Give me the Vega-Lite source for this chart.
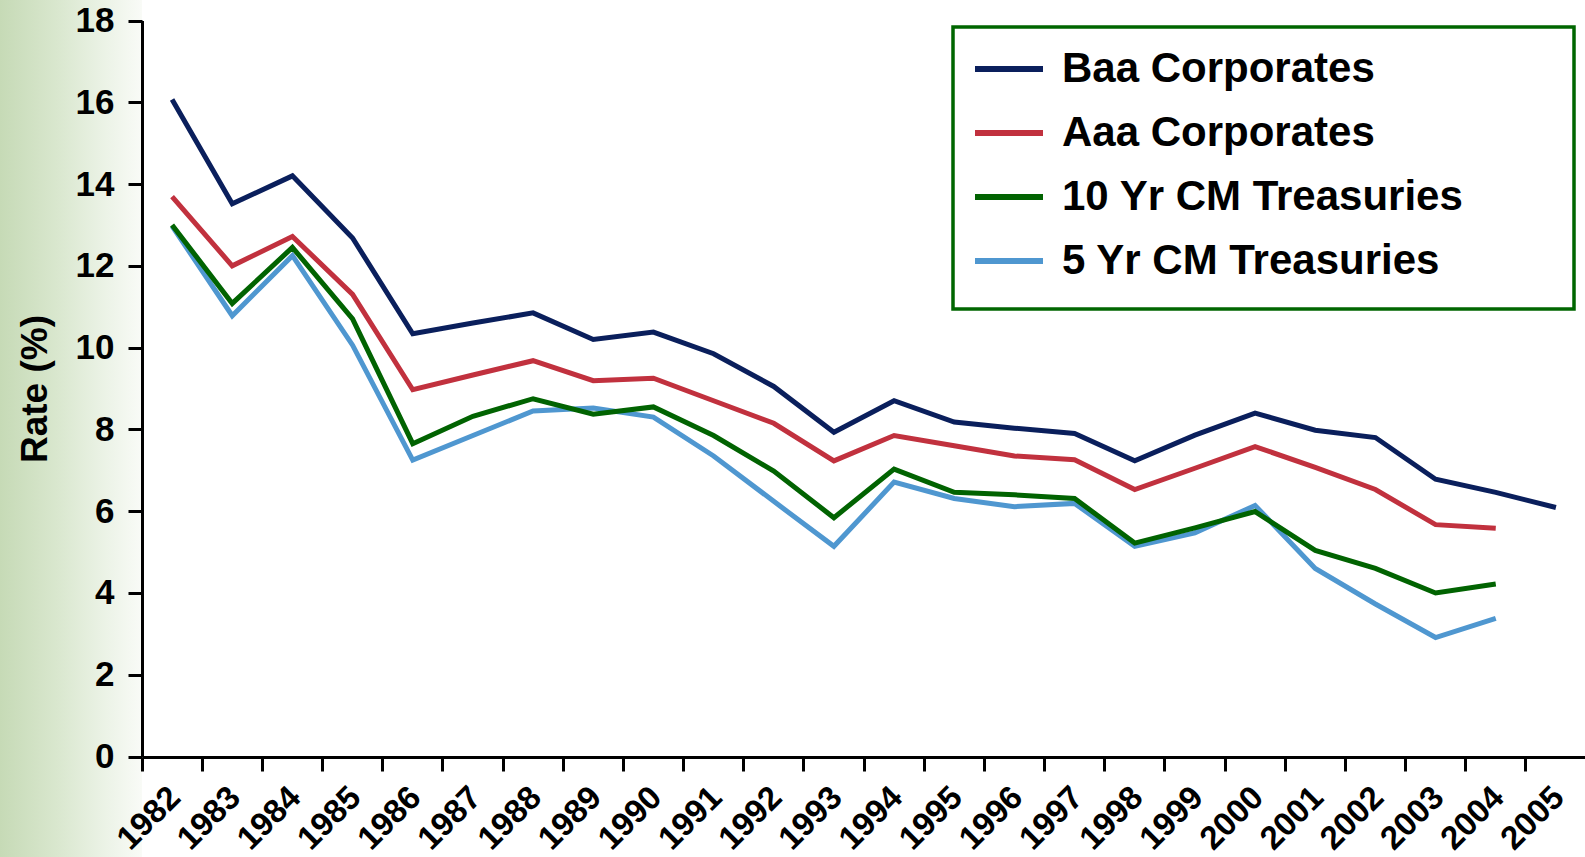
{
  "$schema": "https://vega.github.io/schema/vega-lite/v6.json",
  "padding": 0,
  "background": "white",
  "bounds": "flush",
  "spacing": 0,
  "config": {"font": "Liberation Sans"},
  "hconcat": [
    {
      "width": 142,
      "height": 857,
      "view": {
        "stroke": null,
        "fill": {
          "gradient": "linear",
          "x1": 0, "y1": 0, "x2": 1, "y2": 0,
          "stops": [
            {"offset": 0, "color": "#c6dab6"},
            {"offset": 0.4, "color": "#d9e7ce"},
            {"offset": 0.75, "color": "#ecf3e7"},
            {"offset": 1, "color": "#f9fbf7"}
          ]
        }
      },
      "data": {"values": [{}]},
      "mark": {"type": "point", "opacity": 0},
      "encoding": {}
    },
    {
      "width": 1444,
      "height": 757,
      "view": {"stroke": null},
      "data": {"values": [
        {"year": "1982", "series": "Baa Corporates", "rate": 16.07},
        {"year": "1983", "series": "Baa Corporates", "rate": 13.52},
        {"year": "1984", "series": "Baa Corporates", "rate": 14.2},
        {"year": "1985", "series": "Baa Corporates", "rate": 12.68},
        {"year": "1986", "series": "Baa Corporates", "rate": 10.34},
        {"year": "1987", "series": "Baa Corporates", "rate": 10.6},
        {"year": "1988", "series": "Baa Corporates", "rate": 10.85},
        {"year": "1989", "series": "Baa Corporates", "rate": 10.2},
        {"year": "1990", "series": "Baa Corporates", "rate": 10.38},
        {"year": "1991", "series": "Baa Corporates", "rate": 9.85},
        {"year": "1992", "series": "Baa Corporates", "rate": 9.05},
        {"year": "1993", "series": "Baa Corporates", "rate": 7.93},
        {"year": "1994", "series": "Baa Corporates", "rate": 8.7},
        {"year": "1995", "series": "Baa Corporates", "rate": 8.18},
        {"year": "1996", "series": "Baa Corporates", "rate": 8.03},
        {"year": "1997", "series": "Baa Corporates", "rate": 7.9},
        {"year": "1998", "series": "Baa Corporates", "rate": 7.23},
        {"year": "1999", "series": "Baa Corporates", "rate": 7.86},
        {"year": "2000", "series": "Baa Corporates", "rate": 8.4},
        {"year": "2001", "series": "Baa Corporates", "rate": 7.98},
        {"year": "2002", "series": "Baa Corporates", "rate": 7.8},
        {"year": "2003", "series": "Baa Corporates", "rate": 6.78},
        {"year": "2004", "series": "Baa Corporates", "rate": 6.46},
        {"year": "2005", "series": "Baa Corporates", "rate": 6.09},
        {"year": "1982", "series": "Aaa Corporates", "rate": 13.69},
        {"year": "1983", "series": "Aaa Corporates", "rate": 12.0},
        {"year": "1984", "series": "Aaa Corporates", "rate": 12.72},
        {"year": "1985", "series": "Aaa Corporates", "rate": 11.3},
        {"year": "1986", "series": "Aaa Corporates", "rate": 8.97},
        {"year": "1987", "series": "Aaa Corporates", "rate": 9.33},
        {"year": "1988", "series": "Aaa Corporates", "rate": 9.68},
        {"year": "1989", "series": "Aaa Corporates", "rate": 9.19},
        {"year": "1990", "series": "Aaa Corporates", "rate": 9.25},
        {"year": "1991", "series": "Aaa Corporates", "rate": 8.7},
        {"year": "1992", "series": "Aaa Corporates", "rate": 8.15},
        {"year": "1993", "series": "Aaa Corporates", "rate": 7.23},
        {"year": "1994", "series": "Aaa Corporates", "rate": 7.85},
        {"year": "1995", "series": "Aaa Corporates", "rate": 7.6},
        {"year": "1996", "series": "Aaa Corporates", "rate": 7.35},
        {"year": "1997", "series": "Aaa Corporates", "rate": 7.26},
        {"year": "1998", "series": "Aaa Corporates", "rate": 6.53},
        {"year": "1999", "series": "Aaa Corporates", "rate": 7.05},
        {"year": "2000", "series": "Aaa Corporates", "rate": 7.58},
        {"year": "2001", "series": "Aaa Corporates", "rate": 7.07},
        {"year": "2002", "series": "Aaa Corporates", "rate": 6.53},
        {"year": "2003", "series": "Aaa Corporates", "rate": 5.67},
        {"year": "2004", "series": "Aaa Corporates", "rate": 5.58},
        {"year": "1982", "series": "5 Yr CM Treasuries", "rate": 12.97},
        {"year": "1983", "series": "5 Yr CM Treasuries", "rate": 10.78},
        {"year": "1984", "series": "5 Yr CM Treasuries", "rate": 12.25},
        {"year": "1985", "series": "5 Yr CM Treasuries", "rate": 10.06},
        {"year": "1986", "series": "5 Yr CM Treasuries", "rate": 7.25},
        {"year": "1987", "series": "5 Yr CM Treasuries", "rate": 7.85},
        {"year": "1988", "series": "5 Yr CM Treasuries", "rate": 8.45},
        {"year": "1989", "series": "5 Yr CM Treasuries", "rate": 8.52},
        {"year": "1990", "series": "5 Yr CM Treasuries", "rate": 8.3},
        {"year": "1991", "series": "5 Yr CM Treasuries", "rate": 7.35},
        {"year": "1992", "series": "5 Yr CM Treasuries", "rate": 6.24},
        {"year": "1993", "series": "5 Yr CM Treasuries", "rate": 5.14},
        {"year": "1994", "series": "5 Yr CM Treasuries", "rate": 6.71},
        {"year": "1995", "series": "5 Yr CM Treasuries", "rate": 6.31},
        {"year": "1996", "series": "5 Yr CM Treasuries", "rate": 6.11},
        {"year": "1997", "series": "5 Yr CM Treasuries", "rate": 6.19},
        {"year": "1998", "series": "5 Yr CM Treasuries", "rate": 5.14},
        {"year": "1999", "series": "5 Yr CM Treasuries", "rate": 5.47},
        {"year": "2000", "series": "5 Yr CM Treasuries", "rate": 6.14},
        {"year": "2001", "series": "5 Yr CM Treasuries", "rate": 4.6},
        {"year": "2002", "series": "5 Yr CM Treasuries", "rate": 3.73},
        {"year": "2003", "series": "5 Yr CM Treasuries", "rate": 2.91},
        {"year": "2004", "series": "5 Yr CM Treasuries", "rate": 3.38},
        {"year": "1982", "series": "10 Yr CM Treasuries", "rate": 13.0},
        {"year": "1983", "series": "10 Yr CM Treasuries", "rate": 11.08},
        {"year": "1984", "series": "10 Yr CM Treasuries", "rate": 12.45},
        {"year": "1985", "series": "10 Yr CM Treasuries", "rate": 10.7},
        {"year": "1986", "series": "10 Yr CM Treasuries", "rate": 7.65},
        {"year": "1987", "series": "10 Yr CM Treasuries", "rate": 8.32},
        {"year": "1988", "series": "10 Yr CM Treasuries", "rate": 8.75},
        {"year": "1989", "series": "10 Yr CM Treasuries", "rate": 8.37},
        {"year": "1990", "series": "10 Yr CM Treasuries", "rate": 8.55},
        {"year": "1991", "series": "10 Yr CM Treasuries", "rate": 7.85},
        {"year": "1992", "series": "10 Yr CM Treasuries", "rate": 6.98},
        {"year": "1993", "series": "10 Yr CM Treasuries", "rate": 5.84},
        {"year": "1994", "series": "10 Yr CM Treasuries", "rate": 7.03},
        {"year": "1995", "series": "10 Yr CM Treasuries", "rate": 6.46},
        {"year": "1996", "series": "10 Yr CM Treasuries", "rate": 6.4},
        {"year": "1997", "series": "10 Yr CM Treasuries", "rate": 6.31},
        {"year": "1998", "series": "10 Yr CM Treasuries", "rate": 5.22},
        {"year": "1999", "series": "10 Yr CM Treasuries", "rate": 5.59},
        {"year": "2000", "series": "10 Yr CM Treasuries", "rate": 5.99},
        {"year": "2001", "series": "10 Yr CM Treasuries", "rate": 5.04},
        {"year": "2002", "series": "10 Yr CM Treasuries", "rate": 4.6},
        {"year": "2003", "series": "10 Yr CM Treasuries", "rate": 4.0},
        {"year": "2004", "series": "10 Yr CM Treasuries", "rate": 4.22}
      ]},
      "mark": {"type": "line", "strokeWidth": 5},
      "encoding": {
        "x": {
          "field": "year",
          "type": "ordinal",
          "bandPosition": 0.5,
          "scale": {"type": "band", "paddingInner": 0, "paddingOuter": 0},
          "axis": {
            "title": null,
            "bandPosition": 0,
            "labelAngle": -45,
            "labelAlign": "right",
            "labelBaseline": "middle",
            "labelOffset": 3,
            "labelPadding": 21,
            "labelFont": "Liberation Sans",
            "labelFontWeight": "bold",
            "labelFontSize": 33,
            "labelColor": "black",
            "labelOverlap": false,
            "labelFlush": false,
            "labelBound": false,
            "tickSize": 14,
            "tickWidth": 3,
            "tickColor": "black",
            "domainColor": "black",
            "domainWidth": 3
          }
        },
        "y": {
          "field": "rate",
          "type": "quantitative",
          "scale": {"domain": [0, 18], "nice": false, "range": [756.5, 20.5]},
          "axis": {
            "title": "Rate (%)",
            "values": [0, 2, 4, 6, 8, 10, 12, 14, 16, 18],
            "grid": false,
            "labelFont": "Liberation Sans",
            "labelFontWeight": "bold",
            "labelFontSize": 35,
            "labelColor": "black",
            "labelPadding": 14,
            "labelFlush": false,
            "labelBound": false,
            "tickSize": 14,
            "tickWidth": 3,
            "tickColor": "black",
            "domainColor": "black",
            "domainWidth": 3,
            "titleFont": "Liberation Sans",
            "titleFontWeight": "bold",
            "titleFontSize": 37,
            "titleColor": "black",
            "titlePadding": 21
          }
        },
        "color": {
          "field": "series",
          "type": "nominal",
          "scale": {
            "domain": ["Baa Corporates", "Aaa Corporates", "10 Yr CM Treasuries", "5 Yr CM Treasuries"],
            "range": ["#0a1f5c", "#c1313e", "#016301", "#4f97d0"]
          },
          "legend": {
            "title": "\u200b",
            "titleOrient": "bottom",
            "titleFontSize": 12,
            "titlePadding": 11,
            "orient": "none",
            "legendX": 953,
            "legendY": 27,
            "symbolType": "stroke",
            "symbolSize": 4624,
            "symbolStrokeWidth": 6,
            "labelFont": "Liberation Sans",
            "labelFontWeight": "bold",
            "labelFontSize": 42,
            "labelColor": "black",
            "labelLimit": 900,
            "labelOffset": 16,
            "rowPadding": 6,
            "padding": 5,
            "symbolOffset": 14,
            "strokeColor": "#006600",
            "fillColor": "white",
            "labelExpr": "datum.label + '\u00a0\u00a0\u00a0\u00a0\u00a0\u00a0\u00a0\u00a0\u00a0\u200b'",
            "encode": {"legend": {"update": {"strokeWidth": {"value": 3.5}}}}
          }
        }
      }
    }
  ]
}
